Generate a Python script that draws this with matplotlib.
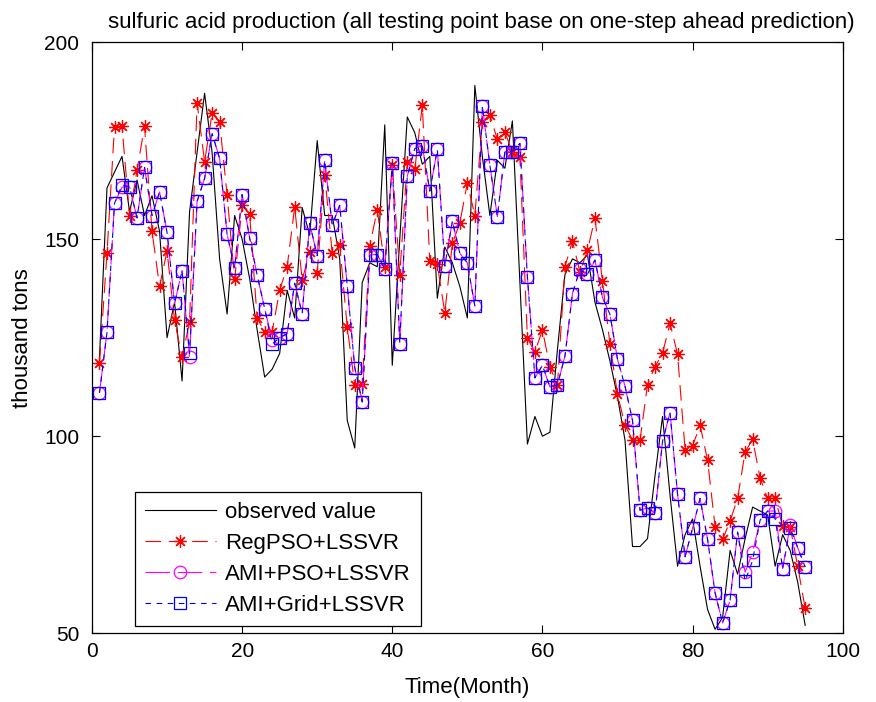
import matplotlib
matplotlib.use('Agg')
import matplotlib.pyplot as plt
import numpy as np

# months of the test set
months = np.arange(1, 96)

observed = [120, 163, 167, 171, 157, 165, 156, 161, 152, 125,
            134, 114, 157, 172, 187, 172, 145, 131, 156, 150,
            140, 127, 115, 117, 121, 137, 130, 158, 151, 175,
            156, 156, 145, 104, 97, 139, 144, 143, 179, 118,
            150, 181, 177, 169, 171, 135, 148, 144, 138, 130,
            189, 171, 156, 170, 168, 180, 139, 98, 105, 100,
            101, 122, 141, 145, 144, 146, 134, 127, 119, 110,
            99, 72, 72, 74, 90, 105, 85, 67, 75, 79,
            67, 56, 51, 54, 71, 65, 74, 82, 81, 80,
            67, 75, 71, 63, 52]

regpso = [118.6, 146.5, 178.5, 178.7, 156.0, 167.5, 178.7, 152.0, 138.0, 147.0,
          129.4, 120.0, 129.0, 184.6, 169.6, 181.9, 179.8, 161.2, 139.8, 158.6,
          156.3, 129.9, 126.5, 126.5, 137.0, 143.0, 158.2, 139.6, 146.8, 141.5,
          166.4, 146.4, 148.5, 127.7, 113.0, 113.2, 148.2, 157.5, 143.0, 168.8,
          141.0, 169.6, 167.7, 184.0, 144.4, 143.6, 131.3, 148.9, 154.1, 164.3,
          156.0, 179.8, 181.5, 175.3, 177.2, 172.0, 170.9, 124.8, 121.4, 126.9,
          117.6, 113.0, 143.0, 149.5, 141.7, 147.2, 155.3, 139.3, 123.3, 110.6,
          102.8, 99.0, 99.0, 113.1, 117.6, 121.1, 128.6, 120.8, 96.6, 97.5,
          102.8, 93.9, 77.0, 73.8, 78.5, 84.2, 96.0, 99.2, 89.3, 84.2,
          84.2, 77.2, 77.0, 67.0, 56.3]

ami_pso = [111.0, 126.4, 159.1, 163.2, 163.3, 155.4, 168.2, 156.0, 162.0, 151.7,
           133.7, 142.0, 120.0, 159.6, 165.4, 176.8, 170.5, 151.2, 142.7, 161.3,
           150.3, 140.9, 132.4, 124.5, 125.0, 126.0, 138.8, 131.1, 154.0, 145.8,
           170.0, 153.6, 158.6, 138.2, 117.4, 108.7, 146.0, 146.1, 142.4, 169.4,
           123.5, 166.0, 173.0, 173.7, 162.2, 172.8, 143.2, 154.6, 146.4, 144.0,
           133.0, 183.8, 168.8, 155.7, 172.2, 172.2, 174.3, 140.4, 114.8, 118.0,
           112.5, 113.0, 120.3, 136.2, 142.3, 141.1, 144.7, 135.2, 130.9, 119.5,
           112.7, 104.0, 81.2, 81.8, 80.5, 98.7, 106.0, 85.3, 69.4, 76.6,
           84.2, 73.8, 60.2, 52.6, 58.4, 75.7, 65.5, 70.5, 78.7, 81.0,
           81.0, 66.4, 77.5, 71.7, 66.8]

ami_grid = [111.0, 126.4, 159.1, 163.7, 163.3, 155.4, 168.2, 156.0, 162.0, 151.7,
            133.7, 142.0, 121.0, 159.6, 165.4, 176.8, 170.5, 151.2, 142.7, 161.3,
            150.3, 140.9, 132.4, 123.4, 125.0, 126.0, 138.8, 131.1, 154.0, 145.8,
            170.0, 153.6, 158.6, 138.2, 117.4, 108.7, 146.0, 146.1, 142.4, 169.4,
            123.5, 166.0, 173.0, 173.7, 162.2, 172.8, 143.2, 154.6, 146.4, 144.0,
            133.0, 183.8, 168.8, 155.7, 172.2, 172.2, 174.3, 140.4, 114.8, 118.0,
            112.5, 113.0, 120.3, 136.2, 142.3, 141.1, 144.7, 135.2, 130.9, 119.5,
            112.7, 104.0, 81.2, 81.8, 80.5, 98.7, 106.0, 85.3, 69.4, 76.6,
            84.2, 73.8, 60.2, 52.6, 58.4, 75.7, 63.2, 68.5, 78.7, 81.0,
            79.1, 66.4, 76.7, 71.7, 66.8]

x_ticks = [0, 20, 40, 60, 80, 100]
y_ticks = [50, 100, 150, 200]


def main():
    plt.rcParams['font.family'] = ['Liberation Sans', 'DejaVu Sans']
    plt.rcParams['font.size'] = 16

    fig = plt.figure(figsize=(8.76, 7.02), dpi=100)
    ax = fig.add_axes([0.105, 0.098, 0.857, 0.842])

    ax.plot(months, observed, color='k', lw=0.8, label='observed value')
    ax.plot(months, regpso, color='red', lw=0.8, ls=(0, (14, 7)),
            marker=(8, 2, 0), ms=9, mew=0.9, label='RegPSO+LSSVR')
    ax.plot(months, ami_pso, color='magenta', lw=0.8, ls=(0, (22, 7)),
            marker='o', ms=9, mfc='none', mew=0.9, label='AMI+PSO+LSSVR')
    ax.plot(months, ami_grid, color='blue', lw=0.8, ls=(0, (5, 5)),
            marker='s', ms=9, mfc='none', mew=0.9, label='AMI+Grid+LSSVR')

    ax.set_xlim(0, 100)
    ax.set_ylim(50, 200)
    ax.set_xticks(x_ticks)
    ax.set_yticks(y_ticks)
    ax.tick_params(direction='in', top=True, right=True, length=6, width=0.8,
                   labelsize=15)
    ax.tick_params(axis='y', pad=9)
    ax.tick_params(axis='x', pad=6)
    for s in ax.spines.values():
        s.set_linewidth(0.9)

    ax.set_xlabel('Time(Month)', labelpad=12)
    ax.set_ylabel('thousand tons', labelpad=8)
    ax.set_title('sulfuric acid production (all testing point base on one-step ahead prediction)',
                 fontsize=16, x=0.518, pad=10)

    leg = ax.legend(loc='lower left', bbox_to_anchor=(0.057, 0.013), borderaxespad=0,
                    fancybox=False, framealpha=1, edgecolor='k', borderpad=0.45,
                    labelspacing=0.45, handlelength=3.2, handletextpad=0.4)
    leg.get_frame().set_linewidth(0.9)

    fig.savefig('out.png', dpi=100)


if __name__ == '__main__':
    main()
